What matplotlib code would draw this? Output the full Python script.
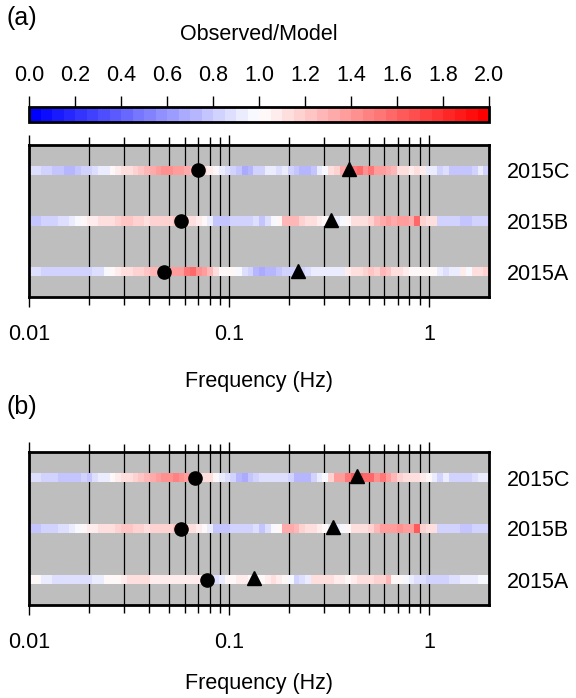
import numpy as np
import matplotlib
matplotlib.use("Agg")
import matplotlib.pyplot as plt
from matplotlib.colors import ListedColormap, BoundaryNorm

plt.rcParams['font.family'] = ['Liberation Sans', 'DejaVu Sans']

# ---------------- data ----------------
stations = ["2015A", "2015B", "2015C"]
freq_min, freq_max = 0.01, 2.0
n_bins = 80

a_2015C = [0.86, 0.86, 0.84, 0.82, 0.78, 0.76, 0.74, 0.74, 0.76, 0.80,
           0.80, 0.86, 0.90, 0.94, 1.00, 1.05, 1.10, 1.15, 1.20, 1.22,
           1.25, 1.30, 1.35, 1.42, 1.42, 1.40, 1.38, 1.30, 1.25, 1.20,
           1.12, 1.08, 1.00, 0.95, 0.88, 0.82, 0.75, 0.70, 0.72, 0.80,
           0.85, 0.90, 0.90, 0.88, 0.90, 0.85, 0.75, 0.72, 0.72, 0.78,
           0.90, 0.98, 1.15, 1.20, 1.30, 1.40, 1.50, 1.55, 1.45, 1.50,
           1.40, 1.35, 1.30, 1.25, 1.15, 1.10, 1.05, 1.12, 1.05, 0.95,
           0.90, 0.82, 0.88, 0.78, 0.76, 0.76, 0.78, 0.85, 0.92, 0.85]
a_2015B = [0.78, 0.78, 0.82, 0.82, 0.84, 0.86, 0.88, 0.90, 0.96, 1.00,
           1.06, 1.08, 1.10, 1.12, 1.15, 1.20, 1.22, 1.22, 1.20, 1.18,
           1.15, 1.17, 1.20, 1.18, 1.20, 1.22, 1.20, 1.15, 1.10, 1.05,
           1.00, 0.95, 0.78, 0.76, 0.76, 0.80, 0.84, 0.84, 0.82, 0.86,
           0.76, 0.88, 0.98, 1.02, 1.25, 1.28, 1.25, 1.18, 1.15, 1.12,
           1.05, 1.00, 0.90, 0.92, 0.98, 1.02, 1.10, 1.12, 1.15, 1.20,
           1.28, 1.32, 1.35, 1.30, 1.40, 1.38, 1.30, 1.55, 1.20, 1.15,
           1.12, 0.82, 0.80, 0.82, 0.80, 0.76, 0.78, 0.80, 0.82, 0.84]
a_2015A = [0.88, 0.86, 0.84, 0.82, 0.80, 0.80, 0.80, 0.80, 0.80, 0.80,
           0.82, 0.86, 0.88, 0.98, 1.02, 1.06, 1.10, 1.15, 1.18, 1.20,
           1.22, 1.25, 1.28, 1.30, 1.35, 1.38, 1.40, 1.50, 1.55, 1.45,
           1.35, 1.25, 1.12, 1.02, 1.00, 1.02, 0.98, 0.88, 0.85, 0.72,
           0.70, 0.72, 0.74, 0.76, 0.80, 0.82, 0.80, 0.84, 0.86, 0.90,
           0.92, 0.90, 0.90, 0.90, 0.95, 1.08, 1.10, 1.15, 1.18, 1.22,
           1.20, 1.25, 1.22, 1.12, 1.10, 1.08, 1.02, 1.02, 1.00, 1.02,
           1.02, 0.90, 0.88, 0.90, 0.92, 1.05, 0.98, 1.12, 1.15, 1.18]

b_2015C = [0.86, 0.86, 0.85, 0.84, 0.84, 0.78, 0.76, 0.76, 0.78, 0.80,
           0.76, 0.86, 0.90, 0.94, 1.00, 1.05, 1.10, 1.15, 1.20, 1.22,
           1.25, 1.32, 1.38, 1.42, 1.45, 1.48, 1.45, 1.35, 1.30, 1.20,
           1.12, 1.10, 1.02, 0.95, 0.86, 0.80, 0.72, 0.70, 0.76, 0.82,
           0.86, 0.88, 0.88, 0.86, 0.88, 0.85, 0.74, 0.72, 0.72, 0.80,
           0.90, 0.98, 1.20, 1.35, 1.40, 1.50, 1.60, 1.60, 1.55, 1.55,
           1.45, 1.50, 1.35, 1.25, 1.20, 1.15, 1.10, 1.15, 1.05, 1.02,
           0.92, 0.85, 0.90, 0.80, 0.82, 0.80, 0.82, 0.88, 0.95, 0.90]
b_2015B = [0.78, 0.78, 0.82, 0.82, 0.84, 0.86, 0.88, 0.90, 0.96, 1.00,
           1.06, 1.08, 1.10, 1.12, 1.15, 1.20, 1.22, 1.22, 1.20, 1.18,
           1.15, 1.17, 1.20, 1.18, 1.20, 1.22, 1.20, 1.15, 1.10, 1.05,
           1.00, 0.95, 0.78, 0.76, 0.76, 0.80, 0.84, 0.84, 0.82, 0.86,
           0.76, 0.88, 0.98, 1.02, 1.30, 1.30, 1.25, 1.18, 1.15, 1.12,
           1.05, 1.00, 0.90, 0.92, 0.98, 1.02, 1.10, 1.12, 1.15, 1.20,
           1.28, 1.35, 1.38, 1.35, 1.42, 1.40, 1.35, 1.60, 1.20, 1.15,
           1.12, 0.82, 0.80, 0.82, 0.80, 0.76, 0.78, 0.80, 0.82, 0.84]
b_2015A = [1.02, 1.00, 0.95, 0.90, 0.88, 0.88, 0.86, 0.86, 0.86, 0.86,
           0.86, 0.90, 0.93, 1.00, 1.02, 1.04, 1.08, 1.10, 1.12, 1.12,
           1.10, 1.08, 1.08, 1.08, 1.06, 1.06, 1.06, 1.06, 1.06, 1.05,
           1.00, 0.90, 0.88, 0.94, 1.00, 1.04, 1.05, 1.05, 1.02, 1.02,
           1.00, 1.08, 1.10, 1.08, 1.00, 0.98, 0.82, 0.88, 0.95, 1.12,
           1.15, 1.12, 1.10, 1.08, 1.05, 1.02, 1.08, 1.10, 1.12, 1.15,
           1.18, 1.20, 1.25, 1.00, 1.00, 0.96, 0.92, 0.88, 0.86, 0.84,
           0.82, 0.80, 0.80, 0.86, 0.88, 0.90, 0.92, 0.94, 0.96, 0.98]

# corner frequencies (circle) and second marker (triangle), order A, B, C
a_circle = [0.0475, 0.0573, 0.070]
a_triangle = [0.222, 0.3225, 0.398]
b_circle = [0.0776, 0.0573, 0.0676]
b_triangle = [0.1338, 0.330, 0.435]

cbar_ticks = [0.0, 0.2, 0.4, 0.6, 0.8, 1.0, 1.2, 1.4, 1.6, 1.8, 2.0]
major_ticks = [0.01, 0.1, 1]
major_labels = ["0.01", "0.1", "1"]

# ---------------- style ----------------
FS = 15.5
base = plt.get_cmap('bwr')
levels = np.linspace(0, 2, 41)
cmap = ListedColormap(base(np.linspace(0, 1, 40)))
norm = BoundaryNorm(levels, cmap.N)

W, H = 576, 698
fig = plt.figure(figsize=(W / 100, H / 100), dpi=100)

def fx(px):
    return px / W

def fy(py):
    return 1 - py / H

edges = np.logspace(np.log10(freq_min), np.log10(freq_max), n_bins + 1)
minor = [m * 10.0 ** e for e in (-2, -1, 0) for m in range(2, 10) if m * 10.0 ** e < freq_max]
half = 0.09

def draw_panel(ax, rows, circ, tri, xlabelpad):
    ax.set_facecolor('#bebebe')
    ax.set_xscale('log')
    ax.set_xlim(freq_min, freq_max)
    ax.set_ylim(0, 3)
    for x in list(major_ticks) + minor:
        ax.axvline(x, color='black', lw=0.9, zorder=1)
    for i, vals in enumerate(rows):
        y = i + 0.5
        Z = np.array(vals)[None, :]
        ax.pcolormesh(edges, [y - half, y + half], Z, cmap=cmap, norm=norm,
                      shading='flat', zorder=2, edgecolors='none')
        ax.plot(circ[i], y, 'o', color='black', ms=9.5, zorder=4)
        ax.plot(tri[i], y + 0.02, '^', color='black', ms=9.5, zorder=4)
    ax.set_xticks(major_ticks)
    ax.set_xticklabels(major_labels)
    ax.set_xticks(minor, minor=True)
    ax.xaxis.set_minor_formatter(matplotlib.ticker.NullFormatter())
    ax.tick_params(axis='x', which='both', direction='out', top=True,
                   bottom=True, width=1.0, labelsize=FS, pad=12.5)
    ax.tick_params(axis='x', which='major', length=7)
    ax.tick_params(axis='x', which='minor', length=6)
    ax.set_yticks([0.5, 1.5, 2.5])
    ax.set_yticklabels(stations)
    ax.yaxis.tick_right()
    ax.tick_params(axis='y', length=0, labelsize=FS, pad=13)
    for s in ax.spines.values():
        s.set_linewidth(2.0)
        s.set_zorder(5)
    ax.set_xlabel("Frequency (Hz)", fontsize=FS, labelpad=xlabelpad)

# panel (a)
ax1 = fig.add_axes([fx(29), fy(297), fx(460), (297 - 145) / H])
draw_panel(ax1, [a_2015A, a_2015B, a_2015C], a_circle, a_triangle, 18.5)
# panel (b)
ax2 = fig.add_axes([fx(29), fy(605), fx(460), (605 - 452) / H])
draw_panel(ax2, [b_2015A, b_2015B, b_2015C], b_circle, b_triangle, 14.5)

# colorbar
cax = fig.add_axes([fx(29), fy(122), fx(460), 15 / H])
sm = matplotlib.cm.ScalarMappable(norm=norm, cmap=cmap)
cb = fig.colorbar(sm, cax=cax, orientation='horizontal', ticks=cbar_ticks)
cb.ax.xaxis.set_ticks_position('top')
cb.ax.xaxis.set_label_position('top')
cb.ax.set_xticklabels([f"{t:.1f}" for t in cbar_ticks])
cb.ax.tick_params(axis='x', direction='out', length=8, width=1.0,
                  labelsize=FS, pad=7)
cb.ax.minorticks_off()
cb.outline.set_linewidth(2.0)

fig.text(fx(259), fy(35), "Observed/Model", ha='center', va='center', fontsize=FS)
fig.text(fx(6), fy(18), "(a)", ha='left', va='center', fontsize=18)
fig.text(fx(6), fy(407), "(b)", ha='left', va='center', fontsize=18)

fig.savefig("out.png", dpi=100)
